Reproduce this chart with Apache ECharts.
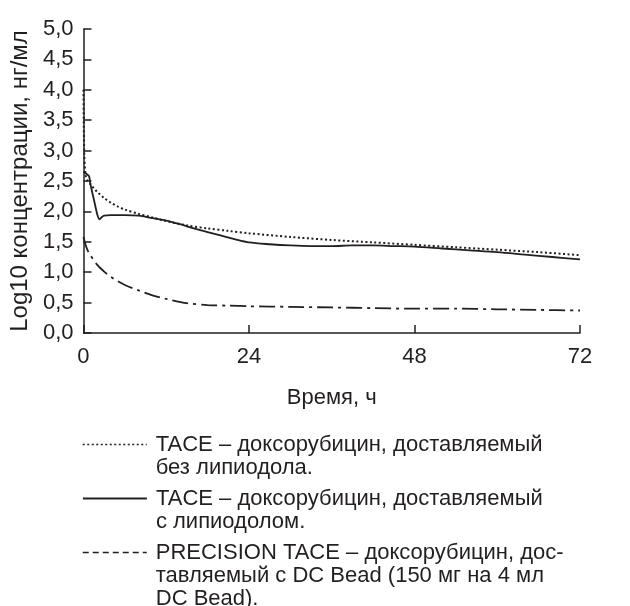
<!DOCTYPE html>
<html>
<head>
<meta charset="utf-8">
<script src="https://cdn.jsdelivr.net/npm/echarts@6/dist/echarts.min.js"></script>
<style>
html,body{margin:0;padding:0;background:#fff;}
#chart{width:630px;height:606px;}
</style>
</head>
<body>
<div id="chart"></div>
<script>
// Data
var xTicks = [0, 24, 48, 72];
var yTicks = ['0,0','0,5','1,0','1,5','2,0','2,5','3,0','3,5','4,0','4,5','5,0'];

var tNoLip = [0, 0.1, 0.3, 0.6, 1, 1.5, 2, 3, 4, 5, 6, 8, 10, 12, 15, 18, 21, 24, 30, 36, 42, 48, 54, 60, 66, 72];
var vNoLip = [4.0, 3.0, 2.6, 2.5, 2.45, 2.38, 2.32, 2.22, 2.14, 2.08, 2.03, 1.96, 1.90, 1.84, 1.77, 1.72, 1.68, 1.64, 1.58, 1.53, 1.49, 1.45, 1.41, 1.37, 1.33, 1.28];

var tLip = [0, 0.4, 0.8, 1.0, 1.5, 2.0, 2.3, 2.6, 3.0, 4, 6, 8, 10, 12, 14, 16, 18, 20, 22, 24, 27, 30, 33, 36, 39, 42, 45, 48, 52, 56, 60, 64, 68, 72];
var vLip = [2.65, 2.62, 2.58, 2.45, 2.2, 1.95, 1.87, 1.9, 1.93, 1.94, 1.94, 1.93, 1.89, 1.85, 1.79, 1.72, 1.66, 1.6, 1.54, 1.49, 1.46, 1.44, 1.43, 1.43, 1.44, 1.44, 1.43, 1.42, 1.39, 1.36, 1.33, 1.29, 1.25, 1.21];

var tDCB = [0, 0.3, 0.6, 1, 2, 3, 4, 5, 6, 8, 10, 12, 15, 18, 21, 24, 30, 36, 42, 48, 54, 60, 66, 72];
var vDCB = [1.58, 1.45, 1.36, 1.28, 1.12, 1.01, 0.92, 0.85, 0.79, 0.70, 0.62, 0.56, 0.49, 0.46, 0.45, 0.44, 0.43, 0.42, 0.41, 0.40, 0.40, 0.39, 0.38, 0.37];

var names = [
  'TACE – доксорубицин, доставляемый\nбез липиодола.',
  'TACE – доксорубицин, доставляемый\nс липиодолом.',
  'PRECISION TACE – доксорубицин, дос-\nтавляемый с DC Bead (150 мг на 4 мл\nDC Bead).'
];
var xName = 'Время, ч';
var yName = 'Log10 концентрации, нг/мл';

function zip(t, v){ return t.map(function(x,i){ return [x, v[i]]; }); }

var INK = '#231f20';
var FONT = 'Liberation Sans';

var chart = echarts.init(document.getElementById('chart'), null, {renderer:'canvas'});

// pad with empty lines above so the sample line sits at the first text line
function padTop(name){
  var n = name.split('\n').length;
  var pre = '';
  for (var i = 1; i < n; i++) pre += '\n';
  return pre + name;
}

function mkLegend(name, top, lineStyle){
  return {
    left: 82, top: top, padding: 0, orient: 'vertical',
    itemWidth: 64, itemHeight: 10, itemGap: 8,
    selectedMode: false,
    formatter: padTop,
    data: [{name: name, lineStyle: lineStyle, itemStyle: {opacity: 0}}],
    itemStyle: {opacity: 0},
    textStyle: {fontFamily: FONT, fontSize: 22, color: INK, lineHeight: 23, padding: [0, 0, 0, 4]}
  };
}

chart.setOption({
  animation: false,
  textStyle: {fontFamily: FONT},
  grid: {left: 82, right: 50, top: 29, bottom: 273, containLabel: false},
  xAxis: {
    type: 'value', min: 0, max: 72, interval: 24,
    name: xName, nameLocation: 'middle', nameGap: 54,
    nameTextStyle: {fontFamily: FONT, fontSize: 22, color: INK},
    axisLine: {show: true, lineStyle: {color: INK, width: 1.5}},
    axisTick: {show: true, inside: true, length: 8, lineStyle: {color: INK, width: 1.5}},
    axisLabel: {fontFamily: FONT, fontSize: 22, color: INK, margin: 13,
      formatter: function(v){ return xTicks.indexOf(v) >= 0 ? String(v) : ''; }},
    splitLine: {show: false}
  },
  yAxis: {
    type: 'value', min: 0, max: 5, interval: 0.5,
    name: yName, nameLocation: 'middle', nameGap: 47, nameRotate: 90,
    nameTextStyle: {fontFamily: FONT, fontSize: 24, color: INK},
    axisLine: {show: true, lineStyle: {color: INK, width: 1.5}},
    axisTick: {show: true, inside: true, length: 8, lineStyle: {color: INK, width: 1.5}},
    axisLabel: {fontFamily: FONT, fontSize: 22, color: INK, margin: 10,
      formatter: function(v){ return yTicks[Math.round(v*2)]; }},
    splitLine: {show: false}
  },
  legend: [
    mkLegend(names[0], 410, {type: [2, 2.5], width: 1.5, color: INK}),
    mkLegend(names[1], 464, {type: 'solid', width: 1.8, color: INK}),
    mkLegend(names[2], 495, {type: [6, 4], width: 1.5, color: INK})
  ],
  series: [
    {name: names[0], type: 'line', data: zip(tNoLip, vNoLip), smooth: 0.3, symbol: 'none',
      lineStyle: {type: [2, 2.5], width: 2, color: INK}, itemStyle: {color: INK}},
    {name: names[1], type: 'line', data: zip(tLip, vLip), smooth: 0.3, symbol: 'none',
      lineStyle: {type: 'solid', width: 1.8, color: INK}, itemStyle: {color: INK}},
    {name: names[2], type: 'line', data: zip(tDCB, vDCB), smooth: 0.3, symbol: 'none',
      lineStyle: {type: [16, 5, 3, 5], width: 1.8, color: INK}, itemStyle: {color: INK}}
  ]
});
</script>
</body>
</html>
